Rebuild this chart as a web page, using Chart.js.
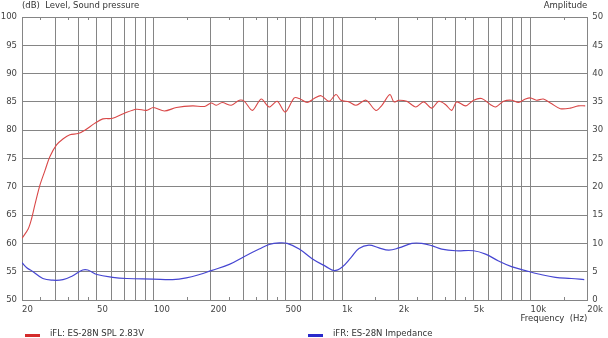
<!DOCTYPE html>
<html>
<head>
<meta charset="utf-8">
<script src="https://cdn.jsdelivr.net/npm/chart.js@4/dist/chart.umd.min.js"></script>
<style>
html, body { margin: 0; padding: 0; background: #fff; }
canvas { display: block; }
</style>
</head>
<body>
<canvas id="myChart" width="608" height="338"></canvas>
<script>
// SPL curve, left axis (dB)
var splFreq = [20, 21.6, 22.5, 23.4, 24.9, 26.5, 28.1, 30.5, 33.1, 35.9, 39.7, 43.1, 48.6, 53.7, 60.6, 70, 81, 91.6, 99.6,
    114, 132, 161, 186, 202, 215, 231, 258, 285, 303, 334, 372, 410, 452, 499, 557, 592, 652, 710, 773, 853, 928, 986,
    1088, 1185, 1338, 1510, 1626, 1792, 1882, 2000, 2204, 2460, 2710, 2990, 3256, 3546, 3815, 4055, 4525, 4988, 5497,
    6136, 6520, 7188, 7922, 8630, 9400, 9988, 10740, 11696, 12900, 14390, 16256, 17912, 19500];
var splLevel = [60.9, 62.6, 64.4, 66.8, 70.3, 72.9, 75.3, 77.4, 78.5, 79.2, 79.4, 80, 81.2, 82.0, 82.1, 83, 83.7, 83.5, 84,
    83.4, 84, 84.3, 84.2, 84.8, 84.4, 84.9, 84.4, 85.3, 85.1, 83.5, 85.5, 84.1, 85.1, 83.2, 85.7, 85.6, 84.9, 85.6, 86.1, 85.1, 86.3, 85.3,
    85, 84.4, 85.3, 83.5, 84.4, 86.3, 85, 85.3, 85.1, 84.1, 85, 83.9, 85.1, 84.5, 83.5, 85, 84.3, 85.3, 85.6,
    84.5, 84.1, 85.1, 85.3, 84.9, 85.5, 85.7, 85.3, 85.5, 84.7, 83.8, 83.9, 84.3, 84.3];

// impedance curve, right axis
var impFreq = [20, 21.2, 22.9, 25.8, 29.2, 33, 36.8, 42, 44.7, 50, 60.6, 72, 99, 126, 149, 175, 202, 252, 303, 363, 410,
    464, 511, 592, 693, 822, 906, 998, 1114, 1228, 1387, 1568, 1770, 2000, 2345, 2648, 2990, 3378, 4003, 4988, 5771,
    6761, 7922, 9400, 11012, 13550, 16457, 19280];
var impValue = [6.6, 5.7, 5.0, 3.8, 3.5, 3.6, 4.2, 5.3, 5.3, 4.5, 4.0, 3.8, 3.7, 3.6, 3.9, 4.5, 5.2, 6.3, 7.7, 9.0, 9.8,
    10.1, 10.0, 9.0, 7.3, 5.9, 5.2, 5.8, 7.5, 9.1, 9.7, 9.2, 8.8, 9.2, 10, 10, 9.6, 9.0, 8.7, 8.7, 8.1,
    6.9, 5.9, 5.2, 4.6, 4.0, 3.8, 3.6];

var freqTicks = [20, 30, 40, 50, 60, 70, 80, 90, 100, 200, 300, 400, 500, 600, 700, 800, 900, 1000,
    2000, 3000, 4000, 5000, 6000, 7000, 8000, 9000, 10000, 20000];
var minorTicks = [25, 35, 45, 150, 250, 350, 450, 1500, 2500, 3500, 4500, 15000];
var freqLabels = { 20: '20', 50: '50', 100: '100', 200: '200', 500: '500', 1000: '1k', 2000: '2k',
    5000: '5k', 10000: '10k', 20000: '20k' };

var seriesNames = ['iFL: ES-28N SPL 2.83V', 'iFR: ES-28N Impedance'];
var leftTitle = '(dB)  Level, Sound pressure';
var rightTitle = 'Amplitude';
var xTitle = 'Frequency  (Hz)';

var gridColor = '#858585';
var textColor = '#444';
var fontSpec = { family: 'DejaVu Sans', size: 8.5 };

function toPoints(xs, ys) {
    var pts = [];
    for (var i = 0; i < xs.length; i++) {
        pts.push({ x: xs[i], y: ys[i] });
    }
    return pts;
}

var textPlugin = {
    id: 'textPlugin',
    afterDraw: function (chart) {
        var c = chart.ctx;
        var area = chart.chartArea;
        var xs = chart.scales.x;
        var legendX = [25, 308];
        c.save();
        // small in-plot marks at the half steps
        c.strokeStyle = gridColor;
        c.lineWidth = 1;
        minorTicks.forEach(function (v) {
            var px = Math.round(xs.getPixelForValue(v)) + 0.5;
            c.beginPath();
            c.moveTo(px, area.bottom);
            c.lineTo(px, area.bottom - 3);
            c.moveTo(px, area.top);
            c.lineTo(px, area.top + 3);
            c.stroke();
        });
        c.font = '8.5px "DejaVu Sans"';
        c.textBaseline = 'middle';
        c.fillStyle = '#333';
        c.textAlign = 'left';
        c.fillText(leftTitle, area.left, 6);
        c.textAlign = 'right';
        c.fillText(rightTitle, area.right, 6);
        c.fillText(xTitle, area.right, 319);
        c.textAlign = 'left';
        chart.data.datasets.forEach(function (ds, i) {
            c.fillStyle = ds.legendColor;
            c.fillRect(legendX[i], 334, 15, 3);
            c.fillStyle = '#333';
            c.fillText(ds.label, legendX[i] + 25, 333.5);
        });
        c.restore();
    }
};

var ctx = document.getElementById('myChart').getContext('2d');
var myChart = new Chart(ctx, {
    type: 'line',
    data: {
        datasets: [{
            label: seriesNames[0],
            data: toPoints(splFreq, splLevel),
            yAxisID: 'y',
            borderColor: '#d94848',
            legendColor: '#d42a2a',
            borderWidth: 1.1,
            pointRadius: 0,
            tension: 0.3,
            fill: false
        }, {
            label: seriesNames[1],
            data: toPoints(impFreq, impValue),
            yAxisID: 'y2',
            borderColor: '#4646d2',
            legendColor: '#2a2acc',
            borderWidth: 1.2,
            pointRadius: 0,
            tension: 0.4,
            fill: false
        }]
    },
    options: {
        responsive: false,
        animation: false,
        layout: { padding: { top: 17, left: 0, right: 0, bottom: 0 } },
        plugins: {
            legend: { display: false },
            title: { display: false },
            tooltip: { enabled: false }
        },
        scales: {
            x: {
                type: 'logarithmic',
                min: 20,
                max: 20000,
                afterBuildTicks: function (scale) {
                    scale.ticks = freqTicks.map(function (v) { return { value: v }; });
                },
                afterFit: function (scale) { scale.height = 38; },
                grid: { color: gridColor, drawTicks: false },
                border: { color: gridColor },
                ticks: {
                    autoSkip: false,
                    maxRotation: 0,
                    align: 'start',
                    padding: 5,
                    color: textColor,
                    font: fontSpec,
                    callback: function (v) { return freqLabels[v] || ''; }
                }
            },
            y: {
                position: 'left',
                min: 50,
                max: 100,
                afterFit: function (scale) { scale.width = 22; },
                grid: { color: gridColor, drawTicks: false },
                border: { color: gridColor },
                ticks: { stepSize: 5, padding: 5, color: textColor, font: fontSpec }
            },
            y2: {
                position: 'right',
                min: 0,
                max: 50,
                afterFit: function (scale) { scale.width = 18; },
                grid: { drawOnChartArea: false, drawTicks: false },
                border: { color: gridColor },
                ticks: { stepSize: 5, padding: 5, color: textColor, font: fontSpec }
            }
        }
    },
    plugins: [textPlugin]
});
</script>
</body>
</html>
